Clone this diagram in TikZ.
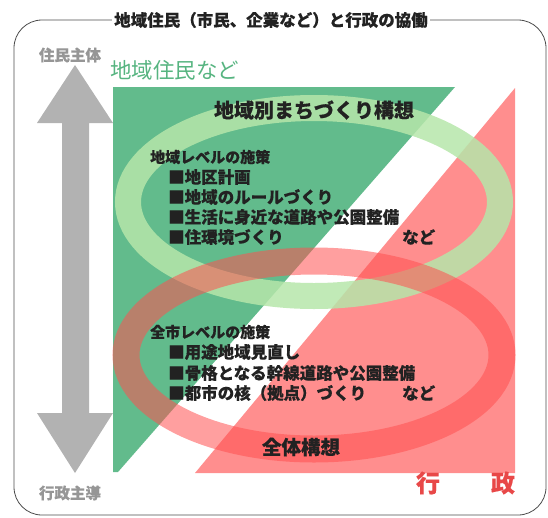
\documentclass[tikz,border=0pt]{standalone}
\usepackage{fontspec}
\setmainfont{Noto Sans CJK JP}[BoldFeatures={FakeBold=0.4}]
\usetikzlibrary{positioning}

\definecolor{areagreen}{RGB}{98,187,140}
\definecolor{areared}{RGB}{255,142,142}
\definecolor{ringgreen}{RGB}{182,230,170}
\definecolor{ringred}{RGB}{255,80,80}
\definecolor{labelgray}{RGB}{150,150,150}
\definecolor{arrowgray}{RGB}{178,178,178}
\definecolor{textdark}{RGB}{34,34,34}
\definecolor{labelred}{RGB}{232,72,72}
\definecolor{labelgreen}{RGB}{86,180,128}

\tikzset{
  sidelabel/.style={inner sep=0pt, text=labelgray, font=\bfseries\fontsize{15.5}{15.5}\selectfont},
  plantitle/.style={inner sep=0pt, text=textdark, font=\bfseries\fontsize{20}{20}\selectfont},
  levelhead/.style={anchor=west, inner sep=0pt, text=textdark, font=\bfseries\fontsize{15}{15}\selectfont},
  measureitem/.style={anchor=west, inner sep=0pt, text=textdark, font=\bfseries\fontsize{16.5}{16.5}\selectfont},
  actorred/.style={inner sep=0pt, text=labelred, font=\bfseries\fontsize{24}{24}\selectfont},
}

\begin{document}
\begin{tikzpicture}[x=1pt,y=-1pt]
\useasboundingbox (0,0) rectangle (548,517);

% Draw the outer frame and its title
\draw[black!70, line width=0.8pt, rounded corners=28pt] (14,20) rectangle (546,515);
\node[fill=white, inner xsep=2pt, inner ysep=1pt, text=textdark,
      font=\bfseries\fontsize{16.5}{16.5}\selectfont] (title) at (271,20)
  {地域住民（市民、企業など）と行政の協働};

% Draw the two coloured areas
\fill[areagreen] (113,87) -- (455,87) -- (118,472) -- (113,472) -- cycle;
\fill[areared] (515,88) -- (515,473) -- (195,473) -- cycle;

% Draw the two rings
\draw[ringgreen, opacity=0.85, line width=26pt] (314,202) ellipse [x radius=186, y radius=94];
\draw[ringred, opacity=0.55, line width=27pt] (314,355) ellipse [x radius=188, y radius=94];

% Draw the double arrow
\fill[arrowgray] (75,65) -- (113,123) -- (89,123) -- (89,413) -- (113,413) -- (75,473)
  -- (37,413) -- (62,413) -- (62,123) -- (37,123) -- cycle;
\node[sidelabel] (top) at (70,55) {住民主体};
\node[sidelabel] (bottom) at (70,493) {行政主導};

% Labels of the actors
\node[inner sep=0pt, anchor=west, text=labelgreen, font=\fontsize{21.5}{21.5}\selectfont]
  (residents) at (110,70) {地域住民など};
\node[actorred] (gyo) at (428,483) {行};
\node[actorred] (sei) at (503,483) {政};

% Upper ring: district level
\node[plantitle] (district) at (314,110) {地域別まちづくり構想};
\node[levelhead] (dhead) at (150,157) {地域レベルの施策};
\node[measureitem] (d1) at (168,177) {■地区計画};
\node[measureitem] (d2) at (168,197) {■地域のルールづくり};
\node[measureitem] (d3) at (168,217) {■生活に身近な道路や公園整備};
\node[measureitem] (d4) at (168,237) {■住環境づくり};
\node[measureitem] (detc) at (402,237) {など};

% Lower ring: whole city level
\node[levelhead] (chead) at (150,332) {全市レベルの施策};
\node[measureitem] (c1) at (168,352) {■用途地域見直し};
\node[measureitem] (c2) at (168,373) {■骨格となる幹線道路や公園整備};
\node[measureitem] (c3) at (168,393) {■都市の核（拠点）づくり};
\node[measureitem] (cetc) at (402,393) {など};
\node[plantitle, font=\bfseries\fontsize{19.5}{19.5}\selectfont] (city) at (301,447) {全体構想};
\end{tikzpicture}
\end{document}
